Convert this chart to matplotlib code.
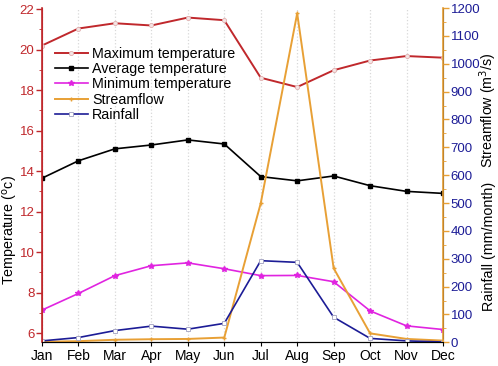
import numpy as np
import matplotlib.pyplot as plt
from matplotlib.ticker import MultipleLocator

plt.rcParams['font.family'] = ['Liberation Sans', 'DejaVu Sans']

months = ["Jan", "Feb", "Mar", "Apr", "May", "Jun", "Jul", "Aug", "Sep", "Oct", "Nov", "Dec"]
t_max = [20.2, 21.04, 21.3, 21.19, 21.58, 21.45, 18.61, 18.15, 18.98, 19.46, 19.68, 19.6]
t_avg = [13.65, 14.51, 15.1, 15.29, 15.54, 15.34, 13.73, 13.52, 13.76, 13.28, 13.0, 12.9]
t_min = [7.14, 7.96, 8.84, 9.33, 9.47, 9.18, 8.84, 8.85, 8.54, 7.1, 6.36, 6.18]
streamflow = [2, 4, 9, 11, 12, 17, 499, 1181, 266, 32, 12, 6]
rainfall = [5, 17, 42, 58, 47, 68, 293, 287, 90, 14, 5, 1]

red = "#C0282C"
orange = "#E8A035"
navy = "#1C1C96"
magenta = "#E024E0"

x = np.arange(len(months))

fig = plt.figure(figsize=(4.98, 3.66), dpi=100)
ax = fig.add_axes([0.0843, 0.0648, 0.8053, 0.9132])
ax2 = ax.twinx()

l1, = ax.plot(x, t_max, color=red, lw=1.4, marker="o", ms=3, mfc="#F4E4E4", mec="#E0B0B0", mew=0.6,
              label="Maximum temperature")
l2, = ax.plot(x, t_avg, color="black", lw=1.2, marker="s", ms=2.5, label="Average temperature")
l3, = ax.plot(x, t_min, color=magenta, lw=1.2, marker="*", ms=4, label="Minimum temperature")
l4, = ax2.plot(x, streamflow, color=orange, lw=1.4, marker="+", ms=3, label="Streamflow")
l5, = ax2.plot(x, rainfall, color=navy, lw=1.2, marker="s", ms=3, mfc="white", mec="#A0A0C0", mew=0.6,
               label="Rainfall")

ax.set_xlim(0, 11)
ax.set_ylim(5.55, 22.05)
ax2.set_ylim(0, 1200)
ax.set_xticks(x)
ax.set_xticklabels(months, fontsize=10)
ax.xaxis.grid(True, color="#D8D8D8", ls=":", lw=0.9)

ax.yaxis.set_major_locator(MultipleLocator(2))
ax.yaxis.set_minor_locator(MultipleLocator(1))
ax.tick_params(axis="y", colors=red, labelsize=9.5, length=4, width=1, pad=1.5)
ax.tick_params(axis="y", which="minor", colors=red, length=2.5)
ax.tick_params(axis="x", labelsize=10, length=3, pad=2)

ax2.yaxis.set_major_locator(MultipleLocator(100))
ax2.yaxis.set_minor_locator(MultipleLocator(50))
ax2.tick_params(axis="y", colors=orange, labelcolor=navy, labelsize=9.5, length=4, width=1, pad=1.5)
ax2.tick_params(axis="y", which="minor", colors=orange, length=2.5)

# axis titles placed by hand, as in the original (not centred on the axes)
fig.text(0.022, 0.372, "Temperature ($^{\\mathrm{o}}$c)", rotation=90, fontsize=10.3, ha="center", va="center")
fig.text(0.981, 0.70, "Streamflow (m$^3$/s)", rotation=90, fontsize=10.3, ha="center", va="center")
fig.text(0.982, 0.326, "Rainfall (mm/month)", rotation=90, fontsize=10.3, ha="center", va="center")

for a in (ax, ax2):
    a.spines["top"].set_visible(False)
ax.spines["left"].set_color(red)
ax2.spines["left"].set_color(red)
ax2.spines["right"].set_color(orange)
ax2.spines["right"].set_linewidth(1.2)
ax.spines["left"].set_linewidth(1.2)

ax.legend(handles=[l1, l2, l3, l4, l5], loc="upper left", bbox_to_anchor=(0.032, 0.883),
          frameon=False, fontsize=10.3, handlelength=2.3, handletextpad=0.3,
          labelspacing=0.08, borderpad=0, borderaxespad=0)

fig.savefig("out.png", dpi=100)
